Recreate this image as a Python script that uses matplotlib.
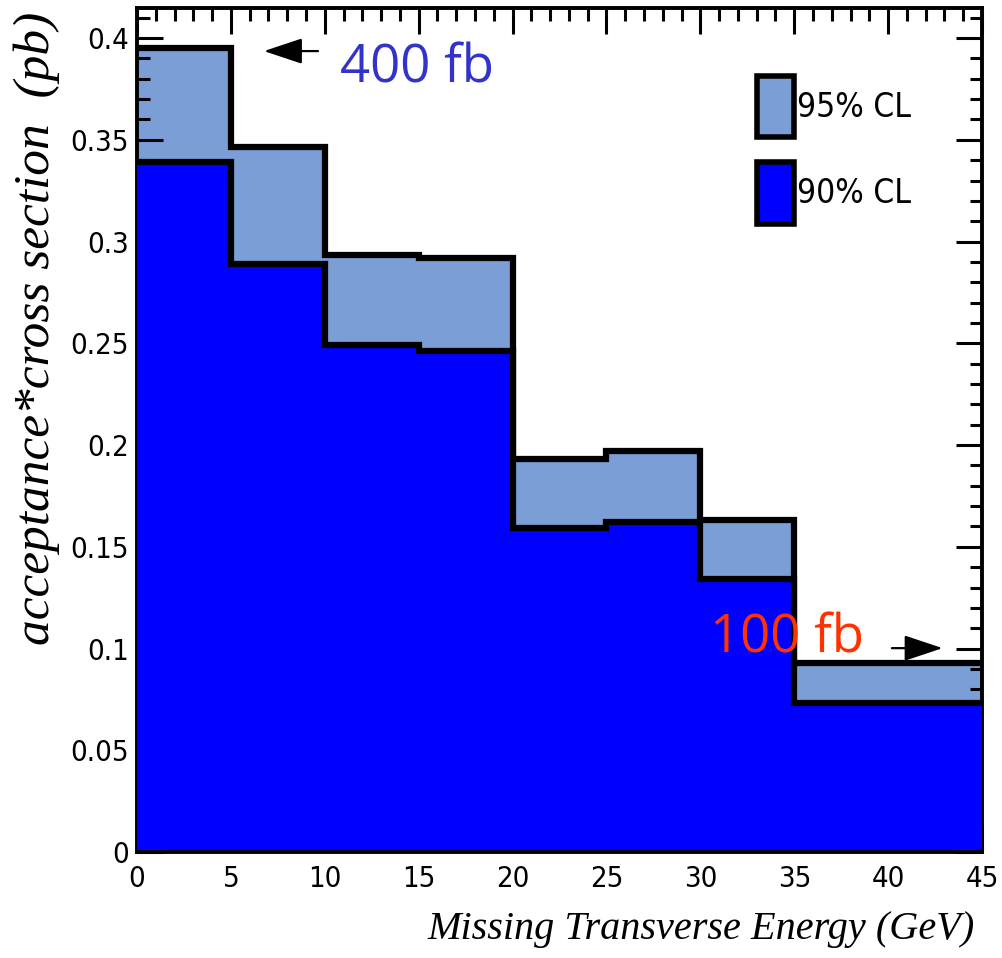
import matplotlib
matplotlib.use("Agg")
import matplotlib.pyplot as plt
from matplotlib.patches import Patch
from matplotlib.ticker import MultipleLocator, FuncFormatter

# missing E_T bins (GeV) and upper limits on acceptance*cross section (pb)
met_edges = [0, 5, 10, 15, 20, 25, 30, 35, 40, 45]
limit_95 = [0.395, 0.3465, 0.2935, 0.292, 0.193, 0.197, 0.163, 0.0927, 0.0927]
limit_90 = [0.339, 0.289, 0.249, 0.246, 0.159, 0.162, 0.134, 0.0731, 0.0731]
labels = ["95% CL", "90% CL"]

# reference lines for the two signal cross sections
ref_400 = 0.3936
ref_100 = 0.1002

light = "#7b9ed7"
dark = "#0000ff"

fig = plt.figure(figsize=(10.03, 9.58), dpi=100)
ax = fig.add_axes([0.1366, 0.1106, 0.8425, 0.881])

ax.stairs(limit_95, met_edges, fill=True, color=light, zorder=1)
ax.stairs(limit_95, met_edges, baseline=None, color="black", lw=4.5, zorder=1.5)
ax.stairs(limit_90, met_edges, fill=True, color=dark, zorder=3)
ax.stairs(limit_90, met_edges, baseline=None, color="black", lw=4.5, zorder=3.5)

ax.set_xlim(0, 45)
ax.set_ylim(0, max(limit_95) * 1.05)

for s in ax.spines.values():
    s.set_linewidth(2.8)
ax.spines["bottom"].set_zorder(4)

ax.xaxis.set_major_locator(MultipleLocator(5))
ax.xaxis.set_minor_locator(MultipleLocator(1))
ax.yaxis.set_major_locator(MultipleLocator(0.05))
ax.yaxis.set_minor_locator(MultipleLocator(0.01))
ax.yaxis.set_major_formatter(FuncFormatter(lambda v, p: "%g" % round(v, 3)))
ax.tick_params(which="both", direction="in", top=True, right=True, width=2.2)
ax.tick_params(which="major", length=19)
ax.tick_params(which="minor", length=9)
ax.tick_params(axis="y", pad=6)
ax.tick_params(axis="x", pad=9)
for lab in ax.get_xticklabels() + ax.get_yticklabels():
    lab.set_family("DejaVu Sans")
    lab.set_stretch("condensed")
    lab.set_fontsize(21)

fig.text(0.037, 1 - 12 / 958, "acceptance*cross section  (pb)", rotation=90,
         ha="center", va="top", family="Liberation Serif", style="italic", fontsize=37)
fig.text(975 / 1003, 1 - 930 / 958, "Missing Transverse Energy (GeV)",
         ha="right", va="center", family="Liberation Serif", style="italic", fontsize=29)

arrow = dict(arrowstyle="-|>,head_length=1.2,head_width=0.4", color="black",
             lw=1.6, shrinkA=0, shrinkB=0, mutation_scale=20)
ax.annotate("", xy=(6.76, ref_400), xytext=(9.64, ref_400), arrowprops=arrow)
ax.annotate("", xy=(42.9, ref_100), xytext=(40.2, ref_100), arrowprops=arrow)
ax.text(10.8, ref_400 - 0.0085, "400 fb", color="#3333cc", family="Open Sans",
        fontsize=38, va="center", ha="left", zorder=5)
ax.text(30.5, ref_100 + 0.0045, "100 fb", color="#ff3300", family="Open Sans",
        fontsize=38, va="center", ha="left", zorder=5)

handles = [Patch(facecolor=light, edgecolor="black", lw=4),
           Patch(facecolor=dark, edgecolor="black", lw=4)]
ax.legend(handles, labels, loc="upper left", bbox_to_anchor=(757 / 1003, 1 - 76 / 958),
          bbox_transform=fig.transFigure, frameon=False, borderpad=0, borderaxespad=0,
          handlelength=1.1, handleheight=2.45, handletextpad=0.1, labelspacing=0.75,
          prop={"family": "DejaVu Sans", "stretch": "condensed", "size": 24})

fig.savefig("out.png", dpi=100)
